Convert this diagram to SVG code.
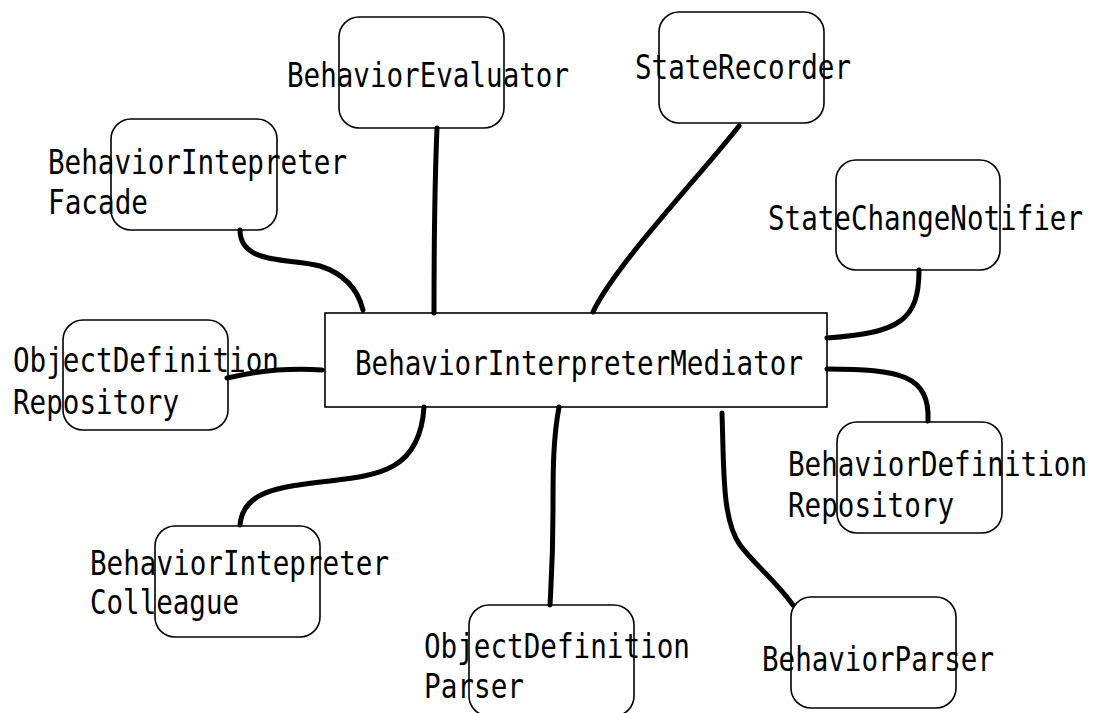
<svg xmlns="http://www.w3.org/2000/svg" width="1095" height="713" viewBox="0 0 1095 713">
  <style>
    .box { fill: #ffffff; stroke: #000000; stroke-width: 1.6; }
    .lbl { font-family: "DejaVu Sans Mono", "Liberation Mono", monospace; font-size: 33px; fill: #000000; }
    .edge { fill: none; stroke: #000000; stroke-width: 5; stroke-linecap: round; }
  </style>
  <rect width="1095" height="713" fill="#ffffff"/>

  <!-- central mediator -->
  <g id="mediator">
    <rect class="box" x="325" y="313" width="502" height="94"/>
    <text class="lbl" x="355" y="375" textLength="448" lengthAdjust="spacingAndGlyphs">BehaviorInterpreterMediator</text>
  </g>

  <g id="facade">
    <rect class="box" x="111" y="119" width="166" height="111" rx="20"/>
    <text class="lbl" x="48" y="174" textLength="299" lengthAdjust="spacingAndGlyphs">BehaviorIntepreter</text>
    <text class="lbl" x="48" y="214" textLength="100" lengthAdjust="spacingAndGlyphs">Facade</text>
  </g>

  <g id="evaluator">
    <rect class="box" x="339" y="17" width="165" height="111" rx="20"/>
    <text class="lbl" x="287" y="87" textLength="282" lengthAdjust="spacingAndGlyphs">BehaviorEvaluator</text>
  </g>

  <g id="recorder">
    <rect class="box" x="659" y="12" width="165" height="111" rx="20"/>
    <text class="lbl" x="635" y="79" textLength="216" lengthAdjust="spacingAndGlyphs">StateRecorder</text>
  </g>

  <g id="notifier">
    <rect class="box" x="836" y="160" width="164" height="110" rx="20"/>
    <text class="lbl" x="768" y="230" textLength="315" lengthAdjust="spacingAndGlyphs">StateChangeNotifier</text>
  </g>

  <g id="object-repo">
    <rect class="box" x="63" y="320" width="165" height="110" rx="20"/>
    <text class="lbl" x="13" y="372" textLength="266" lengthAdjust="spacingAndGlyphs">ObjectDefinition</text>
    <text class="lbl" x="13" y="414" textLength="166" lengthAdjust="spacingAndGlyphs">Repository</text>
  </g>

  <g id="behavior-repo">
    <rect class="box" x="837" y="422" width="165" height="111" rx="20"/>
    <text class="lbl" x="788" y="476" textLength="299" lengthAdjust="spacingAndGlyphs">BehaviorDefinition</text>
    <text class="lbl" x="788" y="517" textLength="166" lengthAdjust="spacingAndGlyphs">Repository</text>
  </g>

  <g id="colleague">
    <rect class="box" x="155" y="526" width="165" height="111" rx="20"/>
    <text class="lbl" x="90" y="575" textLength="299" lengthAdjust="spacingAndGlyphs">BehaviorIntepreter</text>
    <text class="lbl" x="90" y="614" textLength="149" lengthAdjust="spacingAndGlyphs">Colleague</text>
  </g>

  <g id="object-parser">
    <rect class="box" x="469" y="605" width="165" height="111" rx="20"/>
    <text class="lbl" x="424" y="658" textLength="266" lengthAdjust="spacingAndGlyphs">ObjectDefinition</text>
    <text class="lbl" x="424" y="698" textLength="100" lengthAdjust="spacingAndGlyphs">Parser</text>
  </g>

  <g id="behavior-parser">
    <rect class="box" x="791" y="597" width="165" height="111" rx="20"/>
    <text class="lbl" x="762" y="671" textLength="232" lengthAdjust="spacingAndGlyphs">BehaviorParser</text>
  </g>

  <!-- links from the mediator to each colleague -->
  <g id="connectors">
    <path class="edge" d="M240,230 C240,265 290,258 320,266 C345,274 358,290 363,310"/>
    <path class="edge" d="M437,128 C434,200 434,260 434,313"/>
    <path class="edge" d="M739,126 C700,176 615,265 593,312"/>
    <path class="edge" d="M827,338 C900,333 919,320 919,270"/>
    <path class="edge" d="M827,369 C900,369 930,375 928,421"/>
    <path class="edge" d="M722,413 C724,470 722,520 740,545 C755,565 775,580 793,605"/>
    <path class="edge" d="M559,407 C553,440 553,470 553,510 C553,560 551,585 550,605"/>
    <path class="edge" d="M424,407 C420,470 380,475 330,481 C275,487 243,492 240,525"/>
    <path class="edge" d="M227,378 C260,370 290,368 322,370"/>
  </g>
</svg>
